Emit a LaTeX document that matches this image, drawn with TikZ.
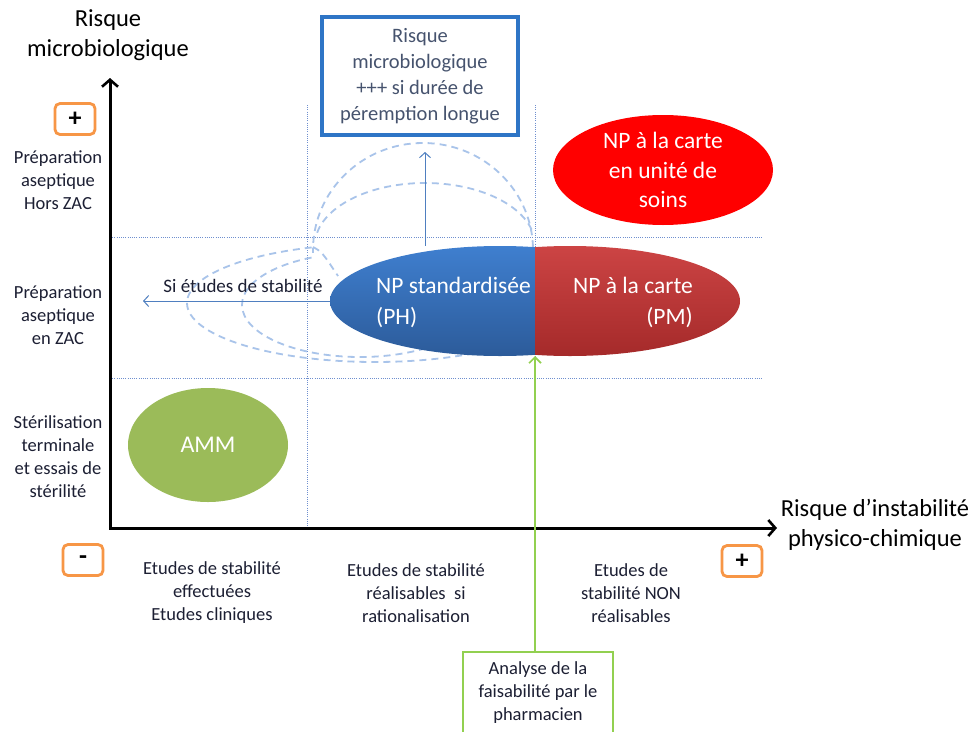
\documentclass[tikz,border=0pt]{standalone}
\usepackage{fontspec}
\setmainfont{Carlito}
\usetikzlibrary{shapes.geometric,arrows.meta}
\definecolor{gridblue}{HTML}{6F8FCF}
\definecolor{ghostblue}{HTML}{A9C4EA}
\definecolor{arrblue}{HTML}{4F7FC0}
\definecolor{boxblue}{HTML}{2E75C6}
\definecolor{boxtxt}{HTML}{46536E}
\definecolor{txt}{HTML}{1C1F33}
\definecolor{phtop}{HTML}{3F7FCF}
\definecolor{phbot}{HTML}{2C5B9A}
\definecolor{pmtop}{HTML}{CC4444}
\definecolor{pmbot}{HTML}{A52A2A}
\definecolor{ammgreen}{HTML}{9BBB59}
\definecolor{limeg}{HTML}{92D050}
\definecolor{orangeb}{HTML}{F79646}
\tikzset{
  gridline/.style={draw=gridblue, line width=0.9pt, dash pattern=on 1pt off 1.2pt},
  ghost/.style={draw=ghostblue, line width=1.8pt, dash pattern=on 7pt off 5pt},
  thinarrow/.style={draw=arrblue, line width=1pt, -{Straight Barb[length=5pt,width=11pt,line width=1pt]}},
  greenarrow/.style={draw=limeg, line width=2pt, -{Straight Barb[length=6pt,width=12pt,line width=1.6pt]}},
  axisline/.style={draw=black, line width=3pt, {Straight Barb[length=7pt,width=16pt,line width=2.6pt]}-{Straight Barb[length=7pt,width=16pt,line width=2.6pt]}},
  signbox/.style={draw=orangeb, line width=2.8pt, rounded corners=5pt, minimum width=40pt, minimum height=31pt, inner sep=0pt, text=black, font=\fontsize{26}{26}\selectfont\bfseries},
  lbl/.style={align=center, text=txt, inner sep=0pt, font=\fontsize{18.5}{23}\selectfont},
  biglbl/.style={align=center, text=black, inner sep=0pt, font=\fontsize{24.5}{30}\selectfont},
  whitetxt/.style={text=white, inner sep=0pt, font=\fontsize{23.5}{31}\selectfont},
}
\begin{document}
\begin{tikzpicture}[x=1pt,y=-1pt]
\fill[white] (0,0) rectangle (976,731);
\useasboundingbox (0,0) rectangle (976,731);

% grid coordinates
\coordinate (v1t) at (307,105); \coordinate (v1b) at (307,528);
\coordinate (v2t) at (535,105); \coordinate (v2b) at (535,528);
\coordinate (h1l) at (110,237); \coordinate (h1r) at (762,237);
\coordinate (h2l) at (110,378); \coordinate (h2r) at (762,378);
\draw[gridline] (v1t) -- (v1b);
\draw[gridline] (v2t) -- (v2b);
\draw[gridline] (h1l) -- (h1r);
\draw[gridline] (h2l) -- (h2r);

% ghost outlines (left)
\begin{scope}
  \clip (150,230) -- (316,230) -- (316,300) -- (470,300) -- (470,380) -- (150,380) -- cycle;
  \draw[ghost] (375,303) ellipse [x radius=188, y radius=59];
  \draw[ghost] (360,305) ellipse [x radius=118, y radius=52];
\end{scope}
\draw[ghost] (313,247) .. controls (322,252) .. (338,276);
% ghost outlines (upper)
\begin{scope}
  \clip (300,130) rectangle (545,252);
  \draw[ghost] (423,250) ellipse [x radius=110, y radius=107];
\end{scope}
\begin{scope}
  \clip (300,130) rectangle (545,232);
  \draw[ghost] (425,245) ellipse [x radius=110, y radius=62];
\end{scope}

% main ellipses (PH blue / PM red)
\node[ellipse, minimum width=340pt, minimum height=110pt, inner sep=0pt] (ph) at (500,301) {};
\node[ellipse, minimum width=340pt, minimum height=110pt, inner sep=0pt] (pm) at (570,301) {};
\begin{scope}
  \clip (320,230) rectangle (535,372);
  \shade[top color=phtop, bottom color=phbot] (500,301) ellipse [x radius=170, y radius=55];
\end{scope}
\begin{scope}
  \clip (535,230) rectangle (750,372);
  \shade[top color=pmtop, bottom color=pmbot] (570,301) ellipse [x radius=170, y radius=55];
\end{scope}
\node[whitetxt, align=left, anchor=west] (phtxt) at (376,302) {NP standardisée\\(PH)};
\node[whitetxt, align=right, anchor=east] (pmtxt) at (693,302) {NP à la carte\\(PM)};

% red ellipse top right
\node[ellipse, fill=red, minimum width=220pt, minimum height=110pt, inner sep=0pt] (carte) at (663,170) {};
\node[whitetxt, align=center, font=\fontsize{23.5}{29.5}\selectfont] (cartetxt) at (carte) {NP à la carte\\en unité de\\soins};

% AMM ellipse
\node[ellipse, fill=ammgreen, minimum width=160pt, minimum height=114pt, inner sep=0pt, text=white, font=\fontsize{24}{24}\selectfont] (amm) at (208,445) {AMM};

% top box
\node[draw=boxblue, line width=3.5pt, minimum width=196pt, minimum height=118pt, inner sep=0pt, align=center, text=boxtxt, font=\fontsize{20.5}{26}\selectfont] (risk) at (420,76) {Risque\\microbiologique\\+++ si durée de\\péremption longue};

% arrows
\coordinate (uptip) at (425,152);
\draw[thinarrow] (ph.north -| uptip) -- (uptip);
\coordinate (lefttip) at (143,301);
\draw[thinarrow] (ph.west) -- (lefttip);
\node[text=txt, inner sep=0pt, font=\fontsize{19}{19}\selectfont] (si) at (243,286) {Si études de stabilité};

% axes
\coordinate (O) at (110,528);
\coordinate (ytip) at (110,78);
\coordinate (xtip) at (777,528);
\draw[axisline] (ytip) -- (O) -- (xtip);

% axis labels
\node[biglbl] (ylab) at (108,35) {Risque\\microbiologique};
\node[biglbl] (xlab) at (875,525) {Risque d’instabilité\\physico-chimique};

% sign boxes
\node[signbox] (plusy) at (75,119) {+};
\node[signbox] (minusx) at (83,560) {-};
\node[signbox] (plusx) at (742,561) {+};

% left labels
\node[lbl] (l1) at (58,180) {Préparation\\aseptique\\Hors ZAC};
\node[lbl] (l2) at (58,315) {Préparation\\aseptique\\en ZAC};
\node[lbl] (l3) at (58,457) {Stérilisation\\terminale\\et essais de\\stérilité};

% bottom labels
\node[lbl] (b1) at (212,593) {Etudes de stabilité\\effectuées\\Etudes cliniques};
\node[lbl] (b2) at (416,593) {Etudes de stabilité\\réalisables~ si\\rationalisation};
\node[lbl] (b3) at (631,593) {Etudes de\\stabilité NON\\réalisables};

% green box
\node[lbl, minimum width=150pt, minimum height=82pt] (gbox) at (538,693) {Analyse de la\\faisabilité par le\\pharmacien};
\draw[draw=limeg, line width=1.6pt] (gbox.south west) -- (gbox.north west) -- (gbox.north east) -- (gbox.south east);
\coordinate (gtip) at (535,356);
\draw[greenarrow] (gbox.north -| gtip) -- (gtip);
\end{tikzpicture}
\end{document}
